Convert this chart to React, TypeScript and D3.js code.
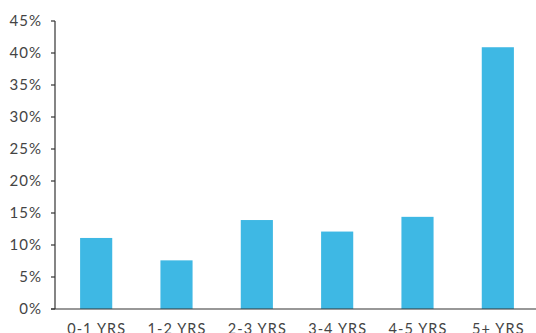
import React from "react";
import * as d3 from "d3";

const categories = ["0-1 YRS", "1-2 YRS", "2-3 YRS", "3-4 YRS", "4-5 YRS", "5+ YRS"];
const values = [11.1, 7.6, 13.9, 12.1, 14.4, 40.9];
const yTicks = [0, 5, 10, 15, 20, 25, 30, 35, 40, 45];

const W = 536;
const H = 333;
const axisX = 55;
const baseY = 309;
const topY = 21;

export default function App() {
  const x = d3.scaleBand<string>().domain(categories).range([56, 538]).paddingInner(0.6).paddingOuter(0.3);
  const y = d3.scaleLinear().domain([0, 45]).range([baseY, topY]);
  const font = "Lato, 'Noto Sans', sans-serif";
  return (
    <svg width={W} height={H} style={{ position: "absolute", left: 0, top: 0 }} fontFamily={font}>
      <rect width={W} height={H} fill="#fff" />
      {categories.map((c, i) => (
        <rect key={c} x={x(c)!} y={y(values[i])} width={x.bandwidth()} height={baseY - y(values[i])} fill="#3eb8e4" />
      ))}
      <line x1={axisX} x2={axisX} y1={topY} y2={baseY} stroke="#333" strokeWidth={1.2} />
      <line x1={axisX - 4} x2={W} y1={baseY} y2={baseY} stroke="#333" strokeWidth={1.2} />
      {yTicks.map((t) => (
        <g key={t}>
          <line x1={axisX - 4} x2={axisX} y1={y(t)} y2={y(t)} stroke="#333" strokeWidth={1.2} />
          <text x={42} y={y(t)} dy="0.35em" textAnchor="end" fontSize={15} letterSpacing={1} fill="#444">
            {t}%
          </text>
        </g>
      ))}
      {categories.map((c) => (
        <text key={c} x={x(c)! + x.bandwidth() / 2 + 0.5} y={334} textAnchor="middle" fontSize={14.5} letterSpacing={1.1} fill="#444">
          {c}
        </text>
      ))}
    </svg>
  );
}
